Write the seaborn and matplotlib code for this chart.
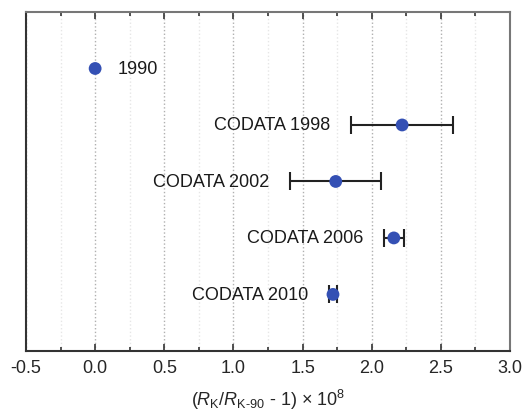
import numpy as np
import pandas as pd
import matplotlib.pyplot as plt
import seaborn as sns
from matplotlib.ticker import MultipleLocator

# values of (R_K / R_K-90 - 1) x 1e8
labels = ['1990', 'CODATA 1998', 'CODATA 2002', 'CODATA 2006', 'CODATA 2010']
values = [0.0, 2.22, 1.74, 2.16, 1.72]
errors = [0.0, 0.37, 0.33, 0.07, 0.03]

df = pd.DataFrame({'label': labels, 'value': values, 'err': errors, 'pos': range(len(labels))})

sns.set_style("white")
plt.rcParams['font.family'] = ['Liberation Sans', 'DejaVu Sans']
plt.rcParams['mathtext.fontset'] = 'custom'
plt.rcParams['mathtext.it'] = 'Liberation Sans:italic'
plt.rcParams['mathtext.rm'] = 'Liberation Sans'

fig = plt.figure(figsize=(5.22, 4.14), dpi=100)
ax = fig.add_axes([0.0498, 0.150, 0.9272, 0.8186])

blue = '#3450b4'
eb = df[df['err'] > 0]
ax.errorbar(eb['value'], eb['pos'], xerr=eb['err'], fmt='none', ecolor='#222222',
            elinewidth=1.5, capsize=6.5, capthick=1.5, zorder=2)
sns.scatterplot(data=df, x='value', y='pos', color=blue, s=85, edgecolor='none', ax=ax, zorder=3)

for i, row in df.iterrows():
    if row['err'] == 0:
        ax.annotate(row['label'], (row['value'], row['pos']), xytext=(16, 0),
                    textcoords='offset points', ha='left', va='center', fontsize=13, color='#1a1a1a')
    else:
        ax.annotate(row['label'], (row['value'] - row['err'], row['pos']), xytext=(-15, 0),
                    textcoords='offset points', ha='right', va='center', fontsize=13, color='#1a1a1a')

ax.set_xlim(-0.5, 3.0)
ax.set_ylim(5, -1)
ax.set_yticks([])
ax.xaxis.set_minor_locator(MultipleLocator(0.25))
ax.set_xticks(np.arange(-0.5, 3.01, 0.5))
ax.set_xticklabels(['%.1f' % t for t in np.arange(-0.5, 3.01, 0.5)], fontsize=13)
ax.tick_params(axis='x', which='both', direction='in', top=True, bottom=True, color='#333333', pad=6)
ax.tick_params(axis='x', which='major', length=5, width=1.2)
ax.tick_params(axis='x', which='minor', length=3, width=1.2)

ax.grid(True, axis='x', which='major', linestyle=':', color='#b0b0b0', linewidth=1)
ax.grid(True, axis='x', which='minor', linestyle=':', color='#e6e6e6', linewidth=1)
ax.grid(False, axis='y')

for side in ['left', 'bottom']:
    ax.spines[side].set_color('#333333')
    ax.spines[side].set_linewidth(1.5)
for side in ['top', 'right']:
    ax.spines[side].set_color('#777777')
    ax.spines[side].set_linewidth(1.5)

ax.set_xlabel(r'($R_{\rm K}$/$R_{\rm K\text{-}90}$ - 1) $\times$ 10$^8$', fontsize=13, labelpad=8)
ax.set_ylabel('')

plt.savefig('out.png', dpi=100)
